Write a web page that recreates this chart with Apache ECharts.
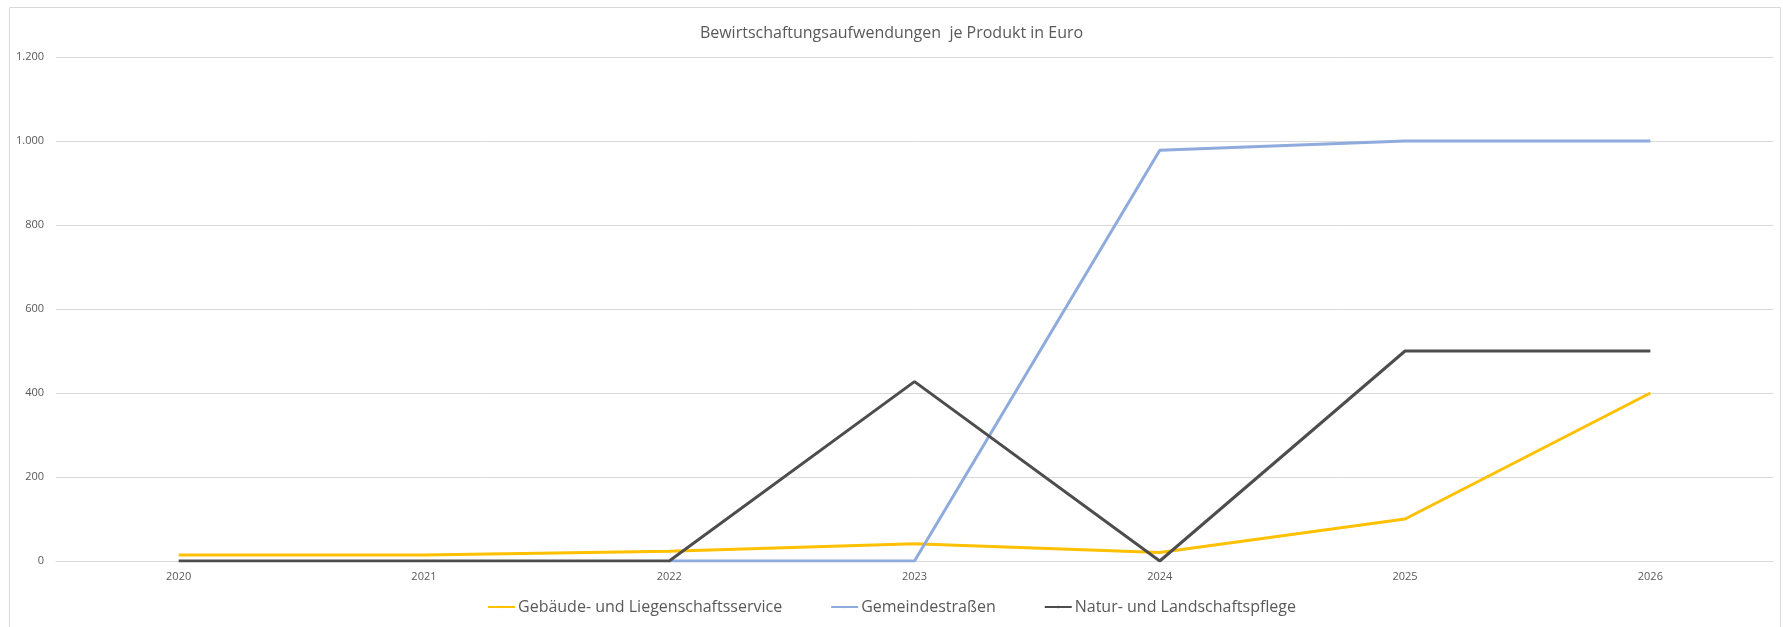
<!DOCTYPE html>
<html>
<head>
<meta charset="utf-8">
<script src="https://cdn.jsdelivr.net/npm/echarts@6/dist/echarts.min.js"></script>
<style>
  html, body { margin: 0; padding: 0; background: #fff; }
  #chart { width: 1783px; height: 627px; }
</style>
</head>
<body>
<div id="chart"></div>
<script>
const years = ["2020", "2021", "2022", "2023", "2024", "2025", "2026"];
const gebaeude = [14, 14, 23, 41, 20, 100, 400];
const strassen = [null, null, 0, 0, 978, 1000, 1000];
const natur = [0, 0, 0, 427, 0, 500, 500];
const yTicks = [0, 200, 400, 600, 800, 1000, 1200];

const fontFamily = "'Open Sans', 'Noto Sans', sans-serif";

const fmt = (v) => String(v).replace(/\B(?=(\d{3})+(?!\d))/g, ".");

const line = (name, data, color) => ({
  name: name,
  type: "line",
  data: data,
  symbol: "none",
  lineStyle: { color: color, width: 3 },
  itemStyle: { color: color },
  animation: false,
});

const chart = echarts.init(document.getElementById("chart"));
chart.setOption({
  backgroundColor: "#fff",
  textStyle: { fontFamily: fontFamily },
  title: {
    text: "Bewirtschaftungsaufwendungen  je Produkt in Euro",
    left: "center",
    top: 20,
    textStyle: { fontSize: 16, fontWeight: "normal", color: "#595959", fontFamily: fontFamily },
  },
  graphic: [{
    type: "rect",
    shape: { x: 9.5, y: 7.5, width: 1771, height: 640 },
    style: { fill: "none", stroke: "#D9D9D9", lineWidth: 1 },
    silent: true,
  }],
  grid: { left: 56, right: 10, top: 57, bottom: 66 },
  legend: {
    bottom: 7,
    left: "center",
    itemWidth: 27,
    itemHeight: 3,
    itemGap: 48,
    textStyle: { fontSize: 16, color: "#595959", fontFamily: fontFamily, padding: [0, 0, 0, -2] },
    data: ["Gebäude- und Liegenschaftsservice", "Gemeindestraßen", "Natur- und Landschaftspflege"],
  },
  xAxis: {
    type: "category",
    data: years,
    boundaryGap: true,
    axisLine: { lineStyle: { color: "#D9D9D9" } },
    axisTick: { show: false },
    axisLabel: { color: "#595959", fontSize: 11, margin: 10 },
  },
  yAxis: {
    type: "value",
    min: yTicks[0],
    max: yTicks[yTicks.length - 1],
    interval: 200,
    axisLine: { show: false },
    axisTick: { show: false },
    splitLine: { lineStyle: { color: "#D9D9D9" } },
    axisLabel: { color: "#595959", fontSize: 11, margin: 12, formatter: fmt },
  },
  series: [
    line("Gebäude- und Liegenschaftsservice", gebaeude, "#FFC000"),
    line("Gemeindestraßen", strassen, "#8FAADC"),
    line("Natur- und Landschaftspflege", natur, "#4D4D4D"),
  ],
});
</script>
</body>
</html>
